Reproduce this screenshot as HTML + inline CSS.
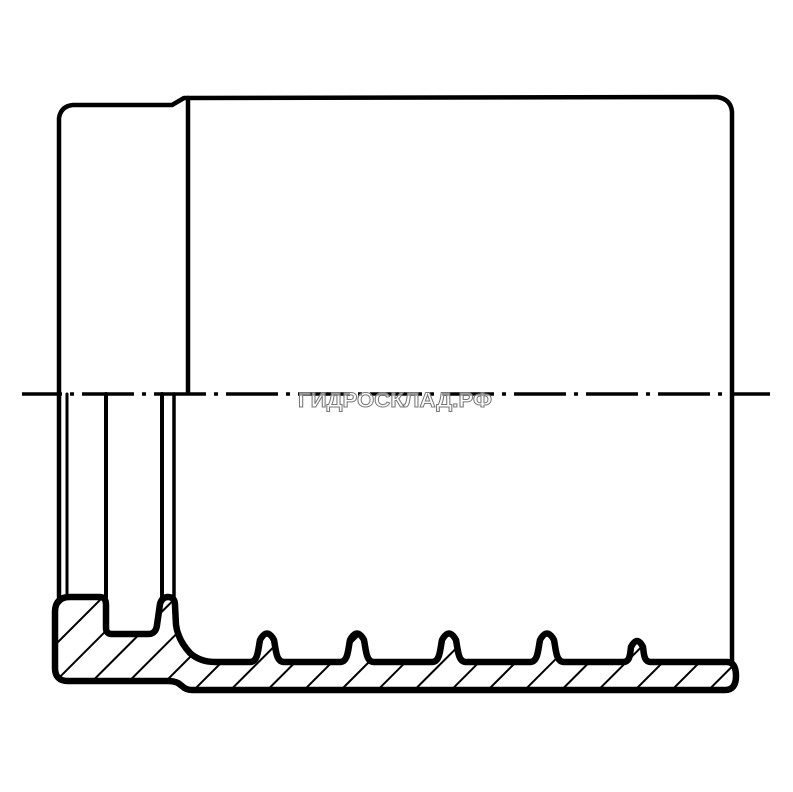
<!DOCTYPE html>
<html><head><meta charset="utf-8"><style>html,body{margin:0;padding:0;background:#fff}svg{display:block}</style></head>
<body>
<svg width="793" height="792" viewBox="0 0 793 792" xmlns="http://www.w3.org/2000/svg">
<defs>
<pattern id="h" patternUnits="userSpaceOnUse" width="26" height="26" patternTransform="rotate(45)">
<line x1="0" y1="0" x2="0" y2="26" stroke="#000" stroke-width="4"/>
</pattern>
</defs>
<g fill="none" stroke="#000" stroke-linecap="round" stroke-linejoin="round">
<path d="M59,597 L59,118 Q61,106 73,105 L172,105 L184,98 L717,97 Q731,99 732,112 L732,664" stroke-width="4.5"/>
<line x1="188" y1="98" x2="188" y2="393" stroke-width="4.5"/>
<line x1="67" y1="394" x2="67" y2="597" stroke-width="3"/>
<line x1="106" y1="394" x2="106" y2="597" stroke-width="4"/>
<line x1="162" y1="394" x2="162" y2="597" stroke-width="4"/>
<line x1="174" y1="394" x2="174" y2="597" stroke-width="3.5"/>
</g>
<line x1="22" y1="394" x2="770" y2="394" stroke="#000" stroke-width="3.5" stroke-dasharray="52 8 4 8" stroke-dashoffset="12"/>
<path d="M55,612 Q55,597 70,597 L100,597 Q106,597 106,605 L106,628 Q106,634 112,634 L148,634 Q156,634 157,625 L160,604 Q162,597 168,597 Q175,597 175,605 L176,625 Q178,640 190,653 Q200,662 215,662
L250,662 C258,662 258,650 260,640 Q267,627 274,640 C276,650 276,662 284,662
L340,662 C348,662 348,650 350,640 Q357,627 364,640 C366,650 366,662 374,662
L432,662 C440,662 440,650 442,640 Q449,627 456,640 C458,650 458,662 466,662
L530,662 C538,662 538,650 540,640 Q547,627 554,640 C556,650 556,662 564,662
L623,662 C630,662 630,655 631,647 Q637,635 643,647 C644,655 644,662 651,662
L727,662 Q736,662 736,676 Q736,690 725,690 L192,690 Q186,690 182,686 L178,683 Q174,681 168,681 L68,681 Q55,681 55,668 Z"
fill="url(#h)" stroke="#000" stroke-width="6.5" stroke-linejoin="round"/>
<text x="395" y="407" text-anchor="middle" textLength="194" lengthAdjust="spacingAndGlyphs" font-family="Liberation Sans, sans-serif" font-weight="bold" font-size="21" fill="#fff" fill-opacity="0.6" stroke="#777" stroke-width="1">ГИДРОСКЛАД.РФ</text>
</svg>
</body></html>
